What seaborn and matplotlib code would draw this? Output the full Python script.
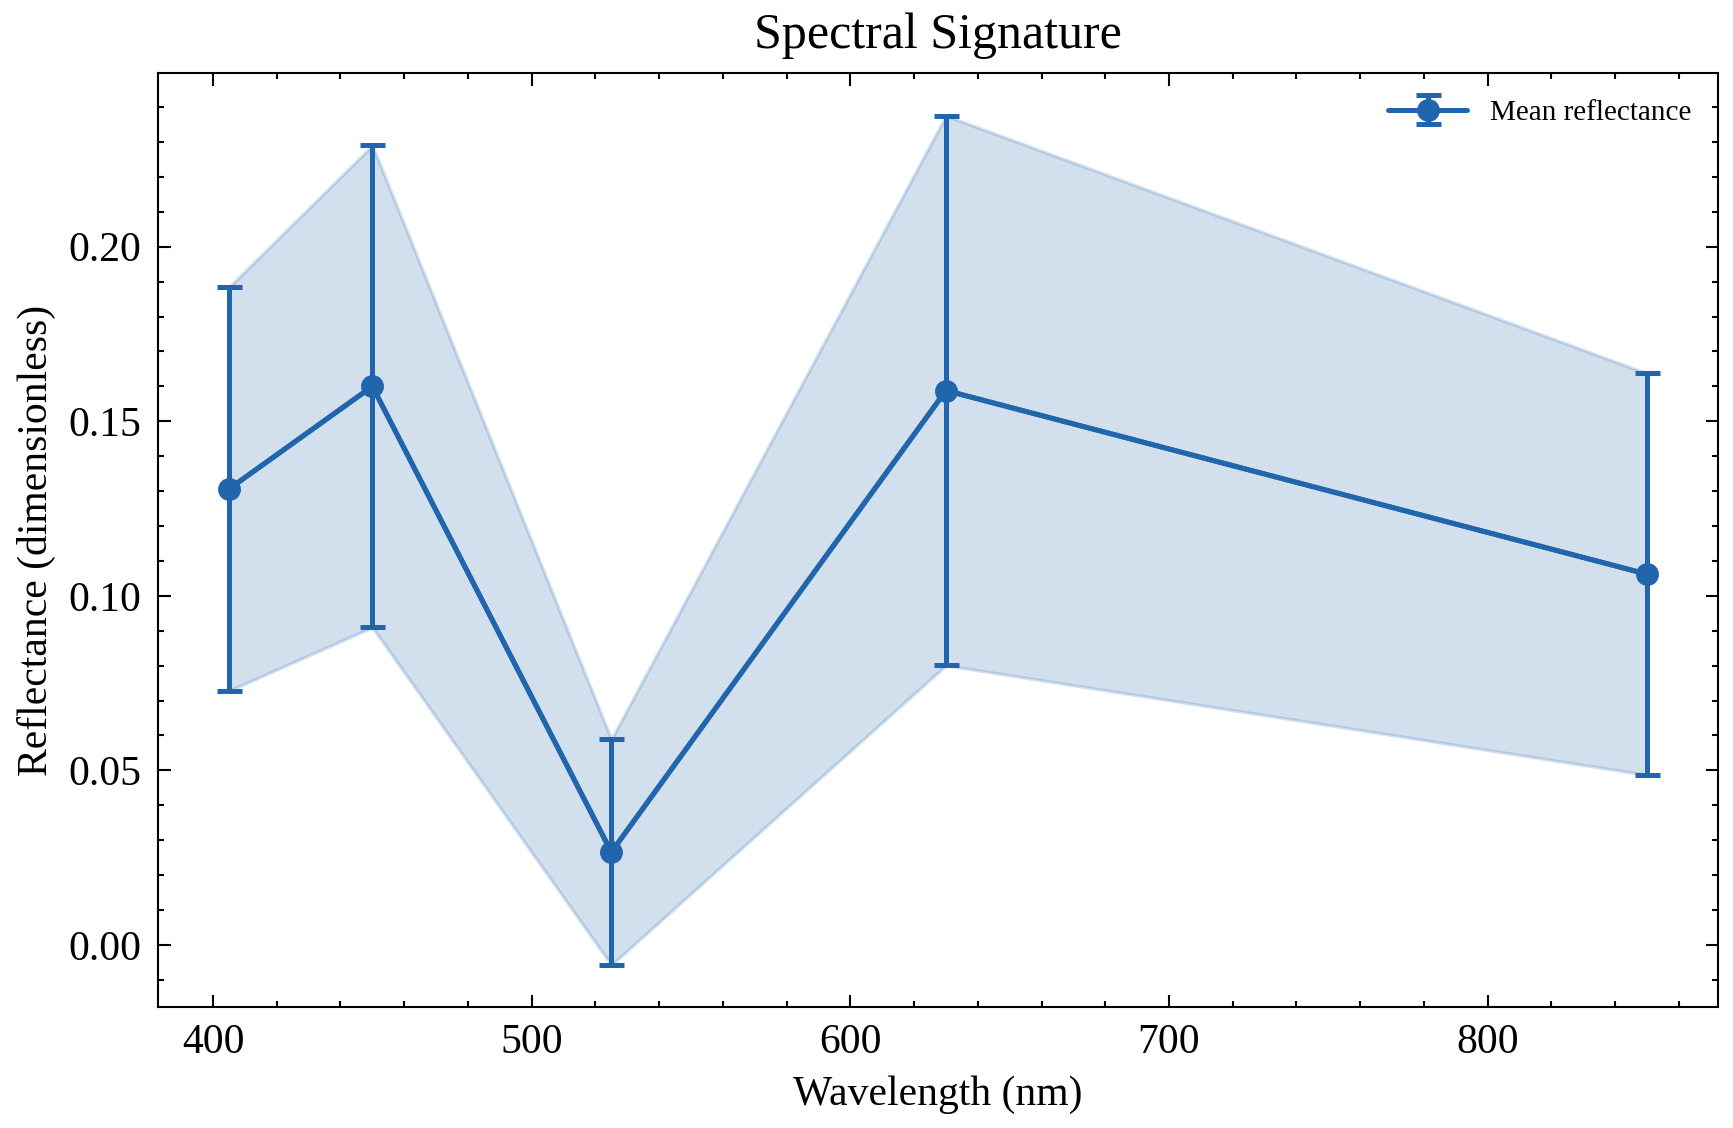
import numpy as np
import pandas as pd
import matplotlib
matplotlib.use("Agg")
import matplotlib.pyplot as plt
import seaborn as sns

# Data
wavelengths = [405, 450, 525, 630, 850]
mean_reflectance = [0.1306, 0.1600, 0.0266, 0.1588, 0.1062]
std_reflectance = [0.0578, 0.0690, 0.0323, 0.0787, 0.0575]

title = "Spectral Signature"
xlabel = "Wavelength (nm)"
ylabel = "Reflectance (dimensionless)"
series_label = "Mean reflectance"

color = "#2166ac"

sns.set_theme(style="ticks")
plt.rcParams["font.family"] = ["Liberation Serif", "DejaVu Serif"]
plt.rcParams.update({
    "xtick.direction": "in",
    "ytick.direction": "in",
    "xtick.top": True,
    "ytick.right": True,
    "xtick.minor.visible": True,
    "ytick.minor.visible": True,
    "xtick.major.size": 3,
    "ytick.major.size": 3,
    "xtick.minor.size": 1.5,
    "ytick.minor.size": 1.5,
    "xtick.major.width": 0.5,
    "ytick.major.width": 0.5,
    "xtick.minor.width": 0.5,
    "ytick.minor.width": 0.5,
    "axes.linewidth": 0.5,
    "axes.edgecolor": "black",
    "xtick.color": "black",
    "ytick.color": "black",
    "text.color": "black",
    "axes.labelcolor": "black",
})

df = pd.DataFrame({"wavelength": wavelengths, "mean": mean_reflectance, "std": std_reflectance})
lower = df["mean"] - df["std"]
upper = df["mean"] + df["std"]

fig = plt.figure(figsize=(1733 / 300, 1128 / 300), dpi=300)
ax = fig.add_axes([0.0912, 0.107, 0.9001, 0.828])

ax.fill_between(df["wavelength"], lower, upper, color=color, alpha=0.2, linewidth=0.8)
ax.errorbar(df["wavelength"], df["mean"], yerr=df["std"], fmt="-o", color=color,
            lw=1.2, elinewidth=1.2, capsize=3, capthick=1.2, markersize=4.5,
            label=series_label, zorder=3)
sns.lineplot(data=df, x="wavelength", y="mean", ax=ax, color=color, lw=1.2,
             marker="o", markersize=4.5, markeredgewidth=0, legend=False, zorder=4)

ax.xaxis.set_minor_locator(matplotlib.ticker.AutoMinorLocator(5))
ax.yaxis.set_minor_locator(matplotlib.ticker.AutoMinorLocator(5))
ax.yaxis.set_major_formatter(matplotlib.ticker.FormatStrFormatter("%.2f"))
ax.tick_params(axis="both", which="major", labelsize=10, pad=4)

ax.set_title(title, fontsize=12, pad=6)
ax.set_xlabel(xlabel, fontsize=10, labelpad=3)
ax.set_ylabel(ylabel, fontsize=10, labelpad=3)
ax.legend(loc="upper right", frameon=False, fontsize=7, handlelength=2.7)

fig.savefig("out.png", dpi=300)
